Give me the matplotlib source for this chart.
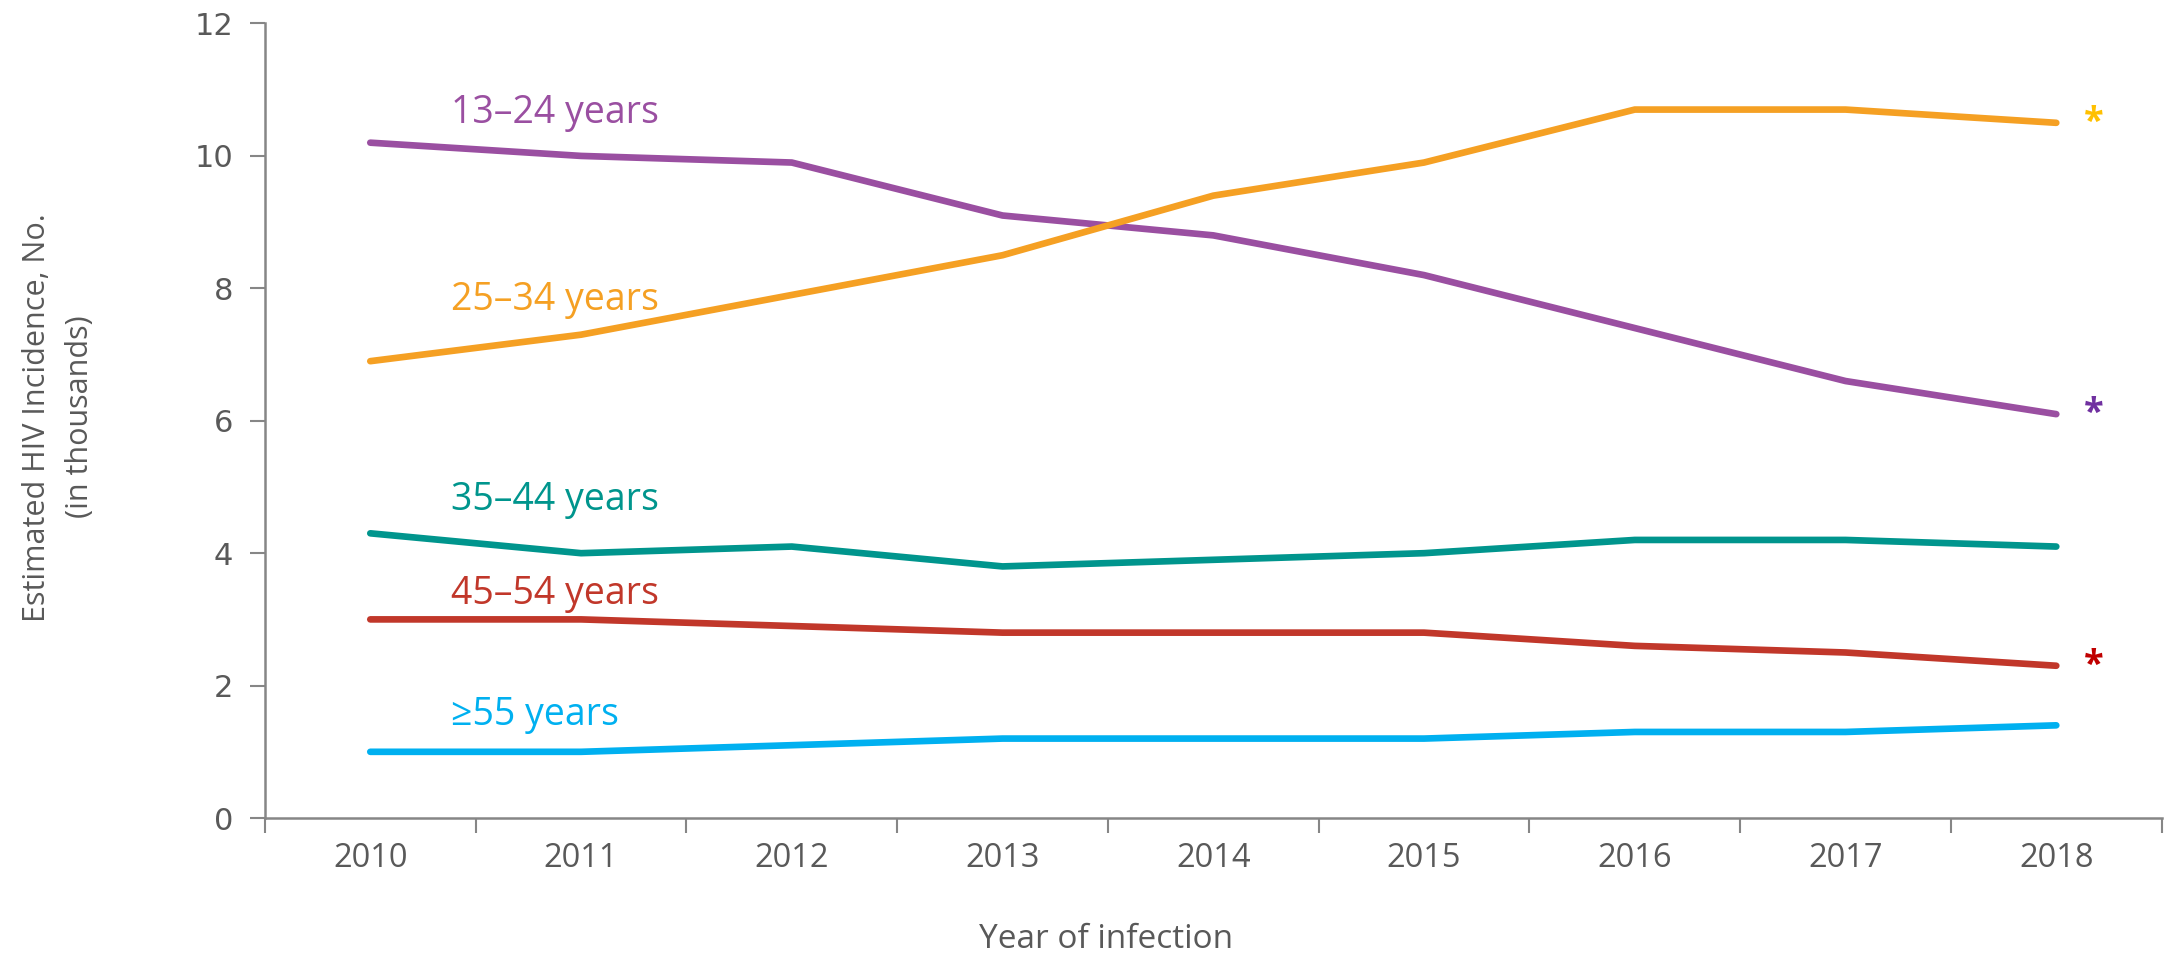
import matplotlib
matplotlib.use("Agg")
import matplotlib.pyplot as plt

years = ["2010", "2011", "2012", "2013", "2014", "2015", "2016", "2017", "2018"]

age_13_24 = [10.2, 10.0, 9.9, 9.1, 8.8, 8.2, 7.4, 6.6, 6.1]
age_25_34 = [6.9, 7.3, 7.9, 8.5, 9.4, 9.9, 10.7, 10.7, 10.5]
age_35_44 = [4.3, 4.0, 4.1, 3.8, 3.9, 4.0, 4.2, 4.2, 4.1]
age_45_54 = [3.0, 3.0, 2.9, 2.8, 2.8, 2.8, 2.6, 2.5, 2.3]
age_55_up = [1.0, 1.0, 1.1, 1.2, 1.2, 1.2, 1.3, 1.3, 1.4]

series_labels = ["13\u201324 years", "25\u201334 years", "35\u201344 years",
                 "45\u201354 years", "\u226555 years"]
series_values = [age_13_24, age_25_34, age_35_44, age_45_54, age_55_up]
series_colors = ["#9A4FA1", "#F5A023", "#00958D", "#C1372A", "#00B0F0"]
label_baseline = [10.49, 7.67, 4.65, 3.23, 1.40]

# asterisks flag a significant change for some groups
star_series = [1, 0, 3]
star_colors = ["#FFC000", "#7030A0", "#C00000"]

gray_text = "#595959"
axis_gray = "#868686"

fig = plt.figure(figsize=(21.66, 9.59), dpi=100)
ax = fig.add_axes([0.1223, 0.147, 0.8757, 0.8285])

x = list(range(len(years)))
for vals, col in zip(series_values, series_colors):
    ax.plot(x, vals, color=col, lw=4.8, solid_capstyle="round", solid_joinstyle="round")

for lab, ly, col in zip(series_labels, label_baseline, series_colors):
    ax.text(0.385, ly, lab, color=col, fontsize=27, family="Open Sans",
            va="baseline", ha="left")

for idx, sc in zip(star_series, star_colors):
    ax.text(8.13, series_values[idx][-1], "*", color=sc, fontsize=26, family="Open Sans",
            fontweight="bold", ha="left", va="center")

ax.set_xlim(-0.5, 8.5)
ax.set_ylim(0, 12)
ax.set_yticks([0, 2, 4, 6, 8, 10, 12])
ax.set_xticks([i - 0.5 for i in range(len(years) + 1)], minor=False)
ax.set_xticklabels([])
ax.set_xticks(x, minor=True)
ax.set_xticklabels(years, minor=True)

ax.tick_params(axis="x", which="major", direction="out", length=11, width=1.5, color=axis_gray)
ax.tick_params(axis="x", which="minor", length=0, pad=17, labelsize=23.5, labelcolor=gray_text)
ax.tick_params(axis="y", direction="out", length=11, width=1.5, color=axis_gray,
               labelsize=22, labelcolor=gray_text, pad=12)
for t in ax.get_xticklabels(minor=True):
    t.set_family("Open Sans")
for t in ax.get_yticklabels():
    t.set_family("DejaVu Sans")

for side in ["top", "right"]:
    ax.spines[side].set_visible(False)
for side in ["left", "bottom"]:
    ax.spines[side].set_color(axis_gray)
    ax.spines[side].set_linewidth(1.8)

fig.text(0.5106, 0.02, "Year of infection", ha="center", va="center", fontsize=24,
         color=gray_text, family="Open Sans")
fig.text(0.027, 0.565, "Estimated HIV Incidence, No.\n(in thousands)", ha="center",
         va="center", rotation=90, fontsize=22, color=gray_text, family="Open Sans",
         linespacing=1.55)

fig.savefig("out.png", dpi=100)
